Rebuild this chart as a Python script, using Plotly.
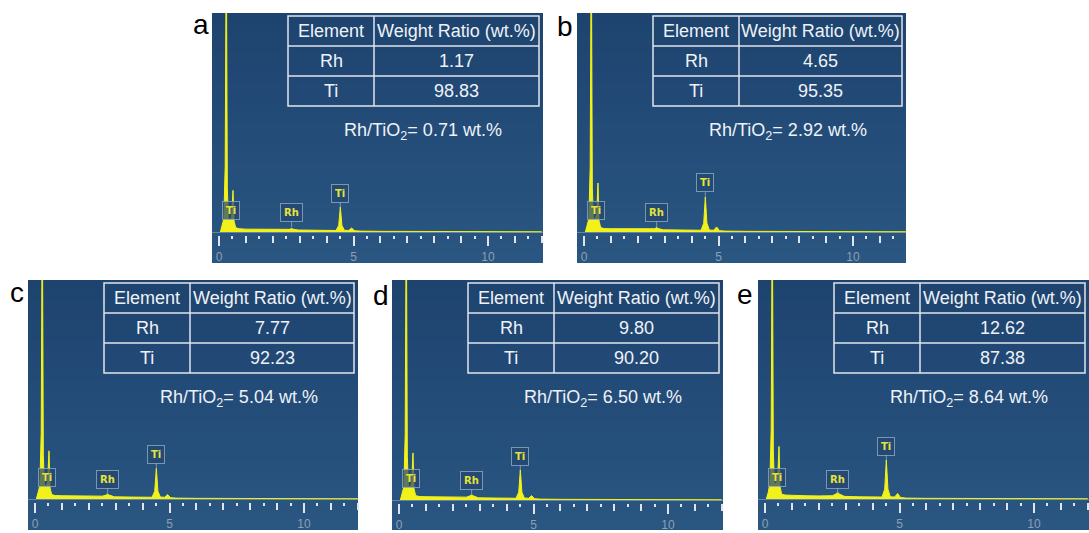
import plotly.graph_objects as go

# ---------------- data ----------------
PANELS = ["a", "b", "c", "d", "e"]
RH_WT = ["1.17", "4.65", "7.77", "9.80", "12.62"]
TI_WT = ["98.83", "95.35", "92.23", "90.20", "87.38"]
RH_TIO2 = ["0.71", "2.92", "5.04", "6.50", "8.64"]

X_TICKS = [0, 5, 10]
X_TICK_LABELS = ["0", "5", "10"]
INT_TICKS = list(range(0, 13))
ENERGY_KEV = [0.05, 0.12, 0.18, 0.23, 0.27, 0.31, 0.35, 0.42, 0.47, 0.52, 0.56, 0.62,
              0.75, 1.0, 1.5, 2.0, 2.5, 2.62, 2.70, 2.78, 2.95, 3.5, 4.0, 4.35, 4.45,
              4.51, 4.57, 4.66, 4.82, 4.93, 5.04, 5.25, 6.0, 8.0, 10.0, 12.0]
# counts in % of panel height (main peak at 0.27 keV goes off scale)
COUNTS_A = [0, 3, 6, 30, 140, 20, 6, 5.5, 7, 19, 5, 2, 1.5, 1.3, 1.2, 1.1, 1.0, 1.2, 1.6, 1.2,
            0.9, 0.8, 0.7, 0.7, 3, 11.4, 3, 0.8, 0.7, 1.8, 0.6, 0.4, 0.3, 0.2, 0.15, 0.1]
COUNTS_B = [0, 3, 6, 30, 140, 20, 6, 6, 8, 22.4, 5, 2, 1.6, 1.5, 1.4, 1.3, 1.2, 1.5, 2.0, 1.5,
            1.0, 0.9, 0.8, 0.8, 4, 16, 4, 0.9, 0.8, 2.3, 0.6, 0.4, 0.3, 0.2, 0.15, 0.1]
COUNTS_C = [0, 3, 6, 30, 140, 20, 6, 6, 8, 22, 5, 2, 1.6, 1.5, 1.4, 1.3, 1.3, 1.7, 2.2, 1.7,
            1.0, 0.9, 0.8, 0.8, 3.5, 14, 3.5, 0.9, 0.8, 2.0, 0.6, 0.4, 0.3, 0.2, 0.15, 0.1]
COUNTS_D = [0, 3, 6, 30, 140, 20, 6, 6, 8, 21.5, 5, 2, 1.6, 1.5, 1.4, 1.3, 1.3, 1.8, 2.3, 1.8,
            1.0, 0.9, 0.8, 0.8, 3.5, 13.7, 3.5, 0.9, 0.8, 2.0, 0.6, 0.4, 0.3, 0.2, 0.15, 0.1]
COUNTS_E = [0, 3, 7, 32, 140, 22, 7, 7, 9, 24, 5.5, 2.2, 1.8, 1.6, 1.5, 1.4, 1.5, 2.2, 3.0, 2.2,
            1.2, 1.0, 0.9, 0.9, 4.5, 17.8, 4.5, 1.0, 0.9, 2.5, 0.7, 0.4, 0.3, 0.2, 0.15, 0.1]
COUNTS = [COUNTS_A, COUNTS_B, COUNTS_C, COUNTS_D, COUNTS_E]

TI_L_KEV, RH_L_KEV, TI_K_KEV = 0.45, 2.70, 4.51

# ---------------- layout geometry (pixels) ----------------
W, H = 1089, 533
# panel: left, top, right, bottom, baseline
GEOM = [(212, 13, 543, 263, 232),
        (577, 13, 906, 263, 232),
        (28, 280, 358, 530, 499),
        (392, 280, 723, 530, 500),
        (758, 280, 1089, 530, 499)]
LETTER_POS = [(201, 24), (565, 27), (17, 292), (381, 295), (745, 294)]
PX_PER_KEV = 26.9
ZERO_OFF = 7          # px from panel left to 0 keV
PX_PER_UNIT = 2.19    # px per count unit
GAP = 3               # px between baseline and ticks

BG_TOP = (30, 67, 111)
BG_BOT = (42, 86, 130)
YEL = "#f2f21a"
LINEC = "#dfe5ec"
TXT = "#eef2f7"
N_BANDS = 25

def px(xp):
    return xp / W

def py(yp):
    return 1 - yp / H

fig = go.Figure()
shapes = []
annotations = []
NP = len(GEOM)

for i, (L, T, R, B, BASE) in enumerate(GEOM):
    n = i + 1
    xa = "x" if n == 1 else f"x{n}"
    ya = "y" if n == 1 else f"y{n}"
    xk = "xaxis" if n == 1 else f"xaxis{n}"
    yk = "yaxis" if n == 1 else f"yaxis{n}"
    on = n + NP
    xa2, xk2 = f"x{on}", f"xaxis{on}"

    # panel background: soft vertical gradient (each band runs to the bottom,
    # so later bands simply cover the lower part of earlier ones -> no seams)
    bh = (B - T) / N_BANDS
    for k in range(N_BANDS):
        f = k / (N_BANDS - 1)
        col = tuple(round(BG_TOP[j] + (BG_BOT[j] - BG_TOP[j]) * f) for j in range(3))
        shapes.append(dict(type="rect", xref="paper", yref="paper", layer="below",
                           x0=px(L), x1=px(R), y0=py(B), y1=py(T + bh * k),
                           fillcolor="rgb(%d,%d,%d)" % col, line=dict(width=0)))

    fig.add_trace(go.Scatter(x=ENERGY_KEV, y=COUNTS[i], mode="lines",
                             line=dict(color=YEL, width=1), fill="tozeroy",
                             fillcolor=YEL, xaxis=xa, yaxis=ya, showlegend=False,
                             hoverinfo="skip"))
    # empty trace for the overlay axis carrying the integer ticks
    fig.add_trace(go.Scatter(x=[], y=[], xaxis=xa2, yaxis=ya, showlegend=False,
                             hoverinfo="skip"))

    x0 = -ZERO_OFF / PX_PER_KEV
    x1 = x0 + (R - L) / PX_PER_KEV
    y0 = -GAP / PX_PER_UNIT
    y1 = (BASE - T) / PX_PER_UNIT
    dom_x = [px(L), px(R)]
    dom_y = [py(BASE + GAP), py(T)]
    fig.update_layout(**{
        xk: dict(domain=dom_x, range=[x0, x1], anchor=ya, showgrid=False,
                 zeroline=False, showline=False,
                 tickmode="array", tickvals=X_TICKS, ticktext=X_TICK_LABELS,
                 ticks="outside", ticklen=10, tickwidth=1.5, tickcolor=LINEC,
                 ticklabelstandoff=1,
                 tickfont=dict(family="Liberation Sans, Arial", size=12, color="#8e9fb3"),
                 minor=dict(tickmode="linear", tick0=0, dtick=0.5, ticks="outside",
                            ticklen=3, tickwidth=1.5, tickcolor=LINEC),
                 fixedrange=True),
        xk2: dict(domain=dom_x, range=[x0, x1], anchor=ya, overlaying=xa,
                  side="bottom", showgrid=False, zeroline=False, showline=False,
                  tickmode="array", tickvals=INT_TICKS, showticklabels=False,
                  ticks="outside", ticklen=7, tickwidth=1.5, tickcolor=LINEC,
                  fixedrange=True),
        yk: dict(domain=dom_y, range=[y0, y1], anchor=xa, showgrid=False,
                 zeroline=True, zerolinecolor="rgba(170,190,210,0.45)", zerolinewidth=1,
                 showline=False, showticklabels=False, ticks="", fixedrange=True),
    })

    # panel letter
    lx, ly = LETTER_POS[i]
    annotations.append(dict(xref="paper", yref="paper", x=px(lx), y=py(ly),
                            text=PANELS[i], showarrow=False, xanchor="center",
                            yanchor="middle",
                            font=dict(family="Liberation Sans, Arial", size=28,
                                      color="black")))

    # table
    tl, tr, tt = L + 76, R - 4, T + 3
    rh = 30
    tdiv = L + 162
    tb = tt + 3 * rh
    lw = dict(color=LINEC, width=1.5)
    shapes.append(dict(type="rect", xref="paper", yref="paper",
                       x0=px(tl), x1=px(tr), y0=py(tb), y1=py(tt), line=lw))
    for k in (1, 2):
        shapes.append(dict(type="line", xref="paper", yref="paper",
                           x0=px(tl), x1=px(tr), y0=py(tt + k * rh), y1=py(tt + k * rh),
                           line=lw))
    shapes.append(dict(type="line", xref="paper", yref="paper",
                       x0=px(tdiv), x1=px(tdiv), y0=py(tb), y1=py(tt), line=lw))
    cells = [["Element", "Weight Ratio (wt.%)"], ["Rh", RH_WT[i]], ["Ti", TI_WT[i]]]
    for r, row in enumerate(cells):
        cy = tt + rh * r + rh / 2
        for c, txt in enumerate(row):
            cx = (tl + tdiv) / 2 if c == 0 else (tdiv + tr) / 2
            annotations.append(dict(xref="paper", yref="paper", x=px(cx), y=py(cy),
                                    text=txt, showarrow=False, xanchor="center",
                                    yanchor="middle",
                                    font=dict(family="Liberation Sans, Arial", size=18,
                                              color=TXT)))
    # Rh/TiO2 text
    annotations.append(dict(xref="paper", yref="paper", x=px(L + 211), y=py(T + 118),
                            text=f"Rh/TiO<sub>2</sub>= {RH_TIO2[i]} wt.%",
                            showarrow=False, xanchor="center", yanchor="middle",
                            font=dict(family="Liberation Sans, Arial", size=18, color=TXT)))

    # peak labels
    box = dict(bgcolor="rgba(35,70,110,0.7)", bordercolor="rgba(150,175,200,0.75)",
               borderwidth=1, borderpad=3,
               font=dict(family="DejaVu Sans", size=10, color="#e4e43a"))
    ti_k_h = COUNTS[i][ENERGY_KEV.index(TI_K_KEV)]
    annotations.append(dict(xref=xa, yref=ya, x=TI_L_KEV, y=10, text="<b>Ti</b>",
                            showarrow=False, **box))
    annotations.append(dict(xref=xa, yref=ya, x=RH_L_KEV, y=2.2, text="<b>Rh</b>",
                            showarrow=True, ax=0, ay=-15, arrowhead=0, arrowwidth=1,
                            arrowcolor="rgba(150,175,200,0.75)", standoff=0, **box))
    annotations.append(dict(xref=xa, yref=ya, x=TI_K_KEV, y=ti_k_h, text="<b>Ti</b>",
                            showarrow=True, ax=0, ay=-14, arrowhead=0, arrowwidth=1,
                            arrowcolor="rgba(150,175,200,0.75)", standoff=0, **box))

fig.update_layout(width=W, height=H, margin=dict(l=0, r=0, t=0, b=0),
                  paper_bgcolor="white", plot_bgcolor="rgba(0,0,0,0)",
                  shapes=shapes, annotations=annotations, showlegend=False)

fig.write_html("out.html")
